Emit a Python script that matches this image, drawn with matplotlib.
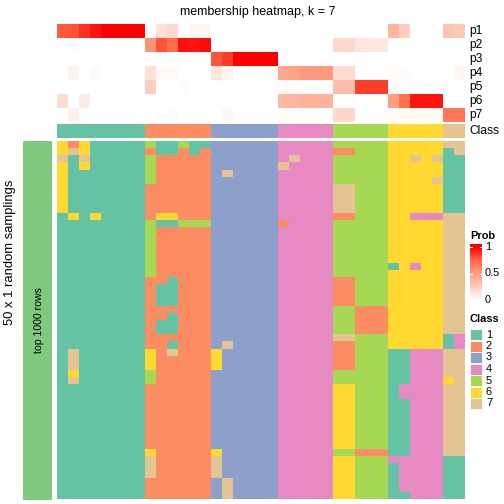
import numpy as np
import matplotlib
matplotlib.use("Agg")
import matplotlib.pyplot as plt
from matplotlib.colors import ListedColormap, LinearSegmentedColormap, BoundaryNorm
from matplotlib.patches import Rectangle

plt.rcParams['font.family'] = ['Liberation Sans', 'DejaVu Sans']

# membership probabilities, one list per class row (37 samples)
p1 = [0.78, 0.8, 0.88, 0.95, 1, 1, 1, 1, 0, 0.15, 0.2, 0, 0.04, 0.04,
      0, 0, 0, 0, 0, 0, 0, 0, 0, 0, 0, 0, 0, 0, 0, 0,
      0.38, 0.25, 0, 0, 0, 0.3, 0.27]
p2 = [0, 0.02, 0, 0, 0, 0, 0, 0, 0.55, 0.8, 0.72, 0.96, 0.95, 0.97,
      0, 0, 0, 0, 0, 0, 0, 0, 0, 0, 0, 0.2, 0.2, 0.12, 0.12, 0.12,
      0, 0, 0, 0, 0, 0, 0]
p3 = [0, 0, 0, 0, 0, 0, 0, 0, 0, 0, 0, 0, 0, 0,
      0.8, 0.85, 1, 1, 1, 1, 0, 0, 0, 0, 0, 0, 0, 0, 0, 0,
      0, 0, 0, 0, 0, 0, 0]
p4 = [0, 0.06, 0, 0.03, 0, 0, 0, 0, 0.15, 0.03, 0.03, 0, 0, 0,
      0.13, 0.06, 0, 0, 0, 0, 0.45, 0.48, 0.52, 0.52, 0.52, 0.18, 0.18, 0, 0, 0,
      0.02, 0.02, 0, 0, 0, 0, 0.05]
p5 = [0, 0, 0, 0, 0, 0, 0, 0, 0.25, 0, 0, 0.02, 0, 0,
      0, 0, 0, 0, 0, 0, 0.02, 0, 0, 0, 0, 0.33, 0.33, 0.85, 0.85, 0.85,
      0, 0, 0, 0, 0, 0, 0]
p6 = [0.18, 0, 0.1, 0, 0, 0, 0, 0, 0, 0, 0, 0, 0, 0,
      0, 0, 0, 0, 0, 0, 0.37, 0.37, 0.4, 0.4, 0.4, 0, 0, 0, 0, 0,
      0.5, 0.7, 0.95, 0.95, 0.95, 0, 0]
p7 = [0, 0.08, 0, 0, 0, 0, 0, 0, 0, 0, 0.03, 0, 0, 0,
      0, 0.04, 0, 0, 0, 0, 0.02, 0, 0, 0, 0, 0.2, 0.2, 0, 0, 0,
      0.02, 0.02, 0.02, 0.02, 0.02, 0.68, 0.68]
prob_labels = ["p1", "p2", "p3", "p4", "p5", "p6", "p7"]

# consensus class of each sample
sample_class = [1] * 8 + [2] * 6 + [3] * 6 + [4] * 5 + [5] * 5 + [6] * 5 + [7] * 2

# class labels from the 50 random samplings (one string per sampling)
samplings = [
    "62611111 511511 333333 44444 55555 66666 77",
    "67611111 211212 333333 44444 22555 66666 17",
    "71711111 522222 333333 47444 55555 66767 11",
    "61611111 522222 333333 74444 55555 66666 11",
    "61111111 522222 373333 44444 55555 66666 11",
    "61111111 522222 333333 44444 55555 66667 11",
    "61111111 222222 333333 44444 77555 66666 11",
    "61111111 222222 333333 44444 77555 66666 11",
    "61111111 222222 333333 44444 77555 66666 11",
    "61111111 222222 333333 44444 77555 66666 11",
    "16161111 266222 333333 44444 22555 66444 77",
    "11111111 511555 333333 24444 55555 66666 77",
    "11111111 522222 333333 44444 55555 66666 77",
    "11111111 522222 333333 44444 55555 66666 77",
    "11111111 522222 333333 44444 55555 66666 77",
    "11111111 522222 333333 44444 55555 66666 77",
    "11111111 522222 333333 44444 55555 66666 77",
    "11111111 522222 333333 44444 55555 16466 77",
    "11111111 522222 333333 44444 55555 66666 77",
    "11111111 221222 333333 44444 22555 66666 77",
    "11111111 211222 333333 44444 22555 66666 77",
    "11111111 211222 333333 44444 22555 66666 77",
    "11111111 211222 333333 44444 22555 66666 77",
    "11111111 222222 333333 44444 55222 66666 77",
    "11111111 221222 333333 44444 55222 66666 77",
    "11111111 211222 333333 44444 55222 66666 77",
    "11111111 211222 333333 44444 55222 66666 77",
    "11111111 222222 333333 44444 77555 66666 14",
    "11111111 221222 373333 44444 22555 66666 14",
    "17111111 627222 633333 44444 22555 11444 77",
    "17111111 622222 633333 44444 22555 11444 77",
    "17111111 622222 633333 44444 22555 11444 77",
    "16111111 522222 333333 44444 55555 11444 77",
    "17111111 522222 333333 44444 55555 11444 67",
    "11111111 222222 333333 44444 66555 14444 77",
    "11111111 222222 333333 44444 66555 14444 77",
    "11111111 222222 333333 44444 66555 11444 77",
    "11111111 222222 333333 44444 66555 11444 77",
    "11111111 222222 333333 44444 66555 11444 77",
    "11111111 222222 333333 44444 66555 11444 77",
    "11111111 222222 333333 44444 66555 11444 77",
    "11111111 222222 333333 44444 66555 11444 77",
    "11111111 222222 333333 44444 66555 11444 77",
    "11111111 622222 633333 44444 55222 11444 77",
    "11111111 722222 733333 44444 66555 44444 11",
    "11111111 722222 733333 44444 66555 14444 11",
    "11111111 722222 733333 44444 66555 14444 11",
    "11111111 222222 373333 44444 66555 14444 11",
    "11111111 222222 373333 44444 66555 14444 11",
    "11111111 222222 373333 44444 66555 11444 11",
]

class_colors = ["#66C2A5", "#FC8D62", "#8DA0CB", "#E78AC3", "#A6D854", "#FFD92F", "#E5C494"]
class_names = ["1", "2", "3", "4", "5", "6", "7"]
prob_ticks = [1, 0.5, 0]
prob_tick_labels = ["1", "0.5", "0"]

W, H = 504, 504


def rect(x0, y0, x1, y1):
    # pixel box (from top-left) -> figure fraction
    return [x0 / W, 1 - y1 / H, (x1 - x0) / W, (y1 - y0) / H]


prob = np.array([p1, p2, p3, p4, p5, p6, p7])
mat = np.array([[int(ch) for ch in s.replace(" ", "")] for s in samplings])

prob_cmap = LinearSegmentedColormap.from_list(
    "prob", [(0, "#FFFFFF"), (0.25, "#FFCEBE"), (0.5, "#FF9E81"), (0.75, "#FF6946"), (1, "#FF0000")])
class_cmap = ListedColormap(class_colors)
class_norm = BoundaryNorm(np.arange(0.5, 8.5), 7)

fig = plt.figure(figsize=(7, 7), dpi=72)

# membership probabilities
ax1 = fig.add_axes(rect(57, 24, 465, 122))
ax1.imshow(prob, cmap=prob_cmap, vmin=0, vmax=1, aspect="auto", interpolation="nearest")
ax1.set_axis_off()
for i, lab in enumerate(prob_labels):
    fig.text(469 / W, 1 - (24 + 14 * i + 7) / H, lab, fontsize=12, va="center", ha="left")

# class annotation
ax2 = fig.add_axes(rect(57, 124, 465, 138))
ax2.imshow(np.array([sample_class]), cmap=class_cmap, norm=class_norm, aspect="auto",
           interpolation="nearest")
ax2.set_axis_off()
fig.text(469 / W, 1 - 131 / H, "Class", fontsize=12, va="center", ha="left")

# samplings heatmap
ax3 = fig.add_axes(rect(57, 141, 465, 499))
ax3.imshow(mat, cmap=class_cmap, norm=class_norm, aspect="auto", interpolation="nearest")
ax3.set_axis_off()

# left row annotation
fig.patches.append(Rectangle((23 / W, 1 - 499 / H), 28 / W, 358 / H,
                             transform=fig.transFigure, color="#7FC97F"))
fig.text(39 / W, 1 - 320 / H, "top 1000 rows", rotation=90, fontsize=10.5, ha="center", va="center")
fig.text(10 / W, 1 - 252 / H, "50 x 1 random samplings", rotation=90, fontsize=13,
         ha="center", va="center")

fig.text(258 / W, 1 - 12 / H, "membership heatmap, k = 7", fontsize=12.5, ha="center", va="center")

# legend: Prob  (value v sits at pixel y = 300 - 53 * v)
fig.text(470 / W, 1 - 236 / H, "Prob", fontsize=11, fontweight="bold", ha="left", va="center")
cax = fig.add_axes(rect(470, 244, 482, 302))
lo, hi = (300 - 302) / 53, (300 - 244) / 53
grad = np.linspace(hi, lo, 200).reshape(-1, 1)
cax.imshow(grad, cmap=prob_cmap, vmin=0, vmax=1, aspect="auto", extent=[0, 1, lo, hi])
for v in prob_ticks[:2]:
    cax.plot([0, 0.2], [v, v], color="white", lw=1)
    cax.plot([0.8, 1], [v, v], color="white", lw=1)
cax.set_xlim(0, 1)
cax.set_ylim(lo, hi)
cax.set_axis_off()
for v, lab in zip(prob_ticks, prob_tick_labels):
    fig.text(485 / W, 1 - (300 - 53 * v) / H, lab, fontsize=11, ha="left", va="center")

# legend: Class
fig.text(470 / W, 1 - 319 / H, "Class", fontsize=11, fontweight="bold", ha="left", va="center")
for i, (c, lab) in enumerate(zip(class_colors, class_names)):
    y0 = 329 + 11.5 * i
    fig.patches.append(Rectangle((470 / W, 1 - (y0 + 11) / H), 12 / W, 11 / H,
                                 transform=fig.transFigure, facecolor=c, edgecolor="white", lw=0.8))
    fig.text(486 / W, 1 - (y0 + 5.5) / H, lab, fontsize=11, ha="left", va="center")

fig.savefig("out.png", dpi=72)
